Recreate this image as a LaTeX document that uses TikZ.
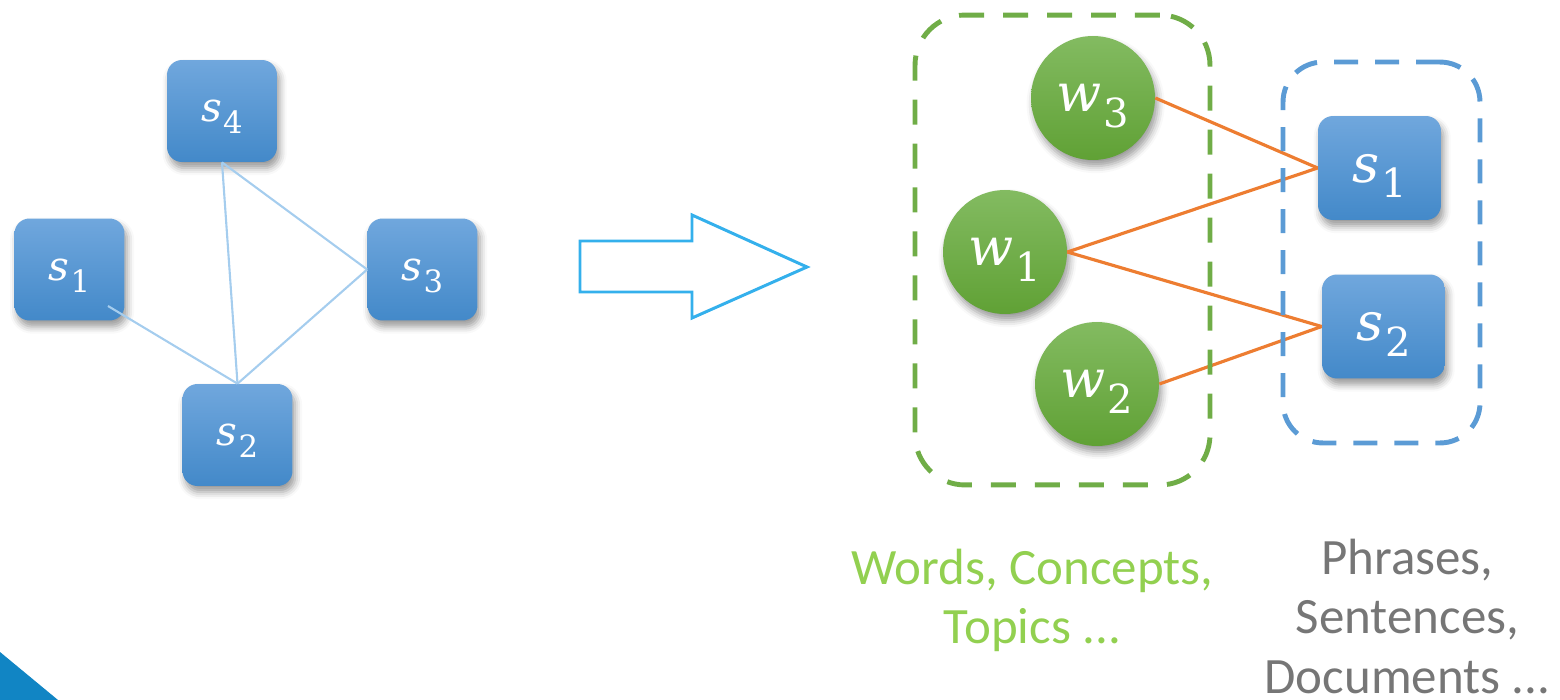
\documentclass[tikz,border=0pt]{standalone}
\usepackage{fontspec}
\setmainfont{Carlito}
\newfontfamily\labelfont{DejaVu Serif}
\usetikzlibrary{positioning,shadows.blur,calc}

\definecolor{boxtop}{RGB}{112,167,221}
\definecolor{boxbot}{RGB}{67,137,201}
\definecolor{nodetop}{RGB}{131,187,97}
\definecolor{nodebot}{RGB}{96,161,53}
\definecolor{edgeblue}{RGB}{165,205,238}
\definecolor{edgeorange}{RGB}{237,125,49}
\definecolor{groupgreen}{RGB}{112,173,71}
\definecolor{groupblue}{RGB}{91,155,213}
\definecolor{arrowblue}{RGB}{52,176,236}
\definecolor{labelgreen}{RGB}{146,208,80}
\definecolor{labelgrey}{RGB}{118,118,118}
\definecolor{cornerblue}{RGB}{17,133,196}

% italic letter with a lowered index
\newcommand{\idx}[2]{{\labelfont\itshape #1}\kern0.03em\raisebox{-0.3em}{\labelfont\scalebox{0.76}{#2}}}

\tikzset{
  sentence/.style={rectangle, rounded corners=0.3cm, top color=boxtop, bottom color=boxbot, text=white,
    text depth=0pt, blur shadow={shadow xshift=1.5pt, shadow yshift=-3.5pt, shadow blur radius=4pt, shadow opacity=40}}, % blue sentence box
  smallsent/.style={sentence, minimum width=2.2cm, minimum height=2.04cm, font=\fontsize{23}{27}\selectfont},
  bigsent/.style={sentence, minimum width=2.46cm, minimum height=2.08cm, font=\fontsize{30}{34}\selectfont},
  word/.style={circle, minimum size=2.48cm, inner sep=0pt, top color=nodetop, bottom color=nodebot, text=white,
    text depth=0pt, font=\fontsize{30}{34}\selectfont,
    blur shadow={shadow xshift=1.5pt, shadow yshift=-3.5pt, shadow blur radius=4pt, shadow opacity=40}},
  group/.style={draw, rectangle, rounded corners=1cm, line width=2.8pt, dash pattern=on 0.5cm off 0.38cm},
  simedge/.style={draw=edgeblue, line width=1.2pt},
  linkedge/.style={draw=edgeorange, line width=1.8pt},
  grouplabel/.style={align=center, inner sep=0pt, font=\fontsize{29}{34}\selectfont}
}

\begin{document}
\begin{tikzpicture}[x=0.02cm, y=-0.02cm]
    \useasboundingbox (0,0) rectangle (1560,700);

    % Sentence graph
    \node [smallsent] (s4) at (222,111) {\idx{s}{4}};
    \node [smallsent] (s1) at (69.5,269.5) {\idx{s}{1}};
    \node [smallsent] (s3) at (422.5,269.5) {\idx{s}{3}};
    \node [smallsent] (s2) at (237.5,435) {\idx{s}{2}};

    \draw [simedge] (s4.south) -- (s2.north);
    \draw [simedge] (s4.south) -- (s3.west);
    \draw [simedge] ([xshift=0.77cm, yshift=-0.73cm]s1.center) -- (s2.north);
    \draw [simedge] (s3.west) -- (s2.north);

    % Big arrow
    \draw [arrowblue, line width=1.7pt, line join=miter]
      (580,241) -- (692,241) -- (692,215) -- (807,267) -- (692,318) -- (692,292) -- (580,292) -- cycle;

    % Bipartite graph
    \node [word] (w3) at (1093,98) {\idx{w}{3}};
    \node [word] (w1) at (1005,252) {\idx{w}{1}};
    \node [word] (w2) at (1097,384) {\idx{w}{2}};
    \node [bigsent] (t1) at (1379.5,168) {\idx{s}{1}};
    \node [bigsent] (t2) at (1383.5,326.5) {\idx{s}{2}};

    \draw [linkedge] (w3.east) -- (t1.west);
    \draw [linkedge] (w1.east) -- (t1.west);
    \draw [linkedge] (w1.east) -- (t2.west);
    \draw [linkedge] (w2.east) -- (t2.west);

    % Groups
    \node [group, draw=groupgreen, minimum width=5.9cm, minimum height=9.4cm] (wordgroup) at (1062.5,250) {};
    \node [group, draw=groupblue, rounded corners=0.8cm, dash pattern=on 0.48cm off 0.34cm,
      minimum width=3.94cm, minimum height=7.62cm] (sentgroup) at (1381.5,252.5) {};

    \node [grouplabel, text=labelgreen, below=1.22cm of wordgroup, xshift=-0.6cm] (wordlabel) {Words, Concepts,\\Topics ...};
    \node [grouplabel, text=labelgrey, below=1.86cm of sentgroup, xshift=0.52cm] (sentlabel) {Phrases,\\Sentences,\\Documents ...};

    \fill [cornerblue] (0,652) -- (58,700) -- (0,700) -- cycle;
\end{tikzpicture}
\end{document}
